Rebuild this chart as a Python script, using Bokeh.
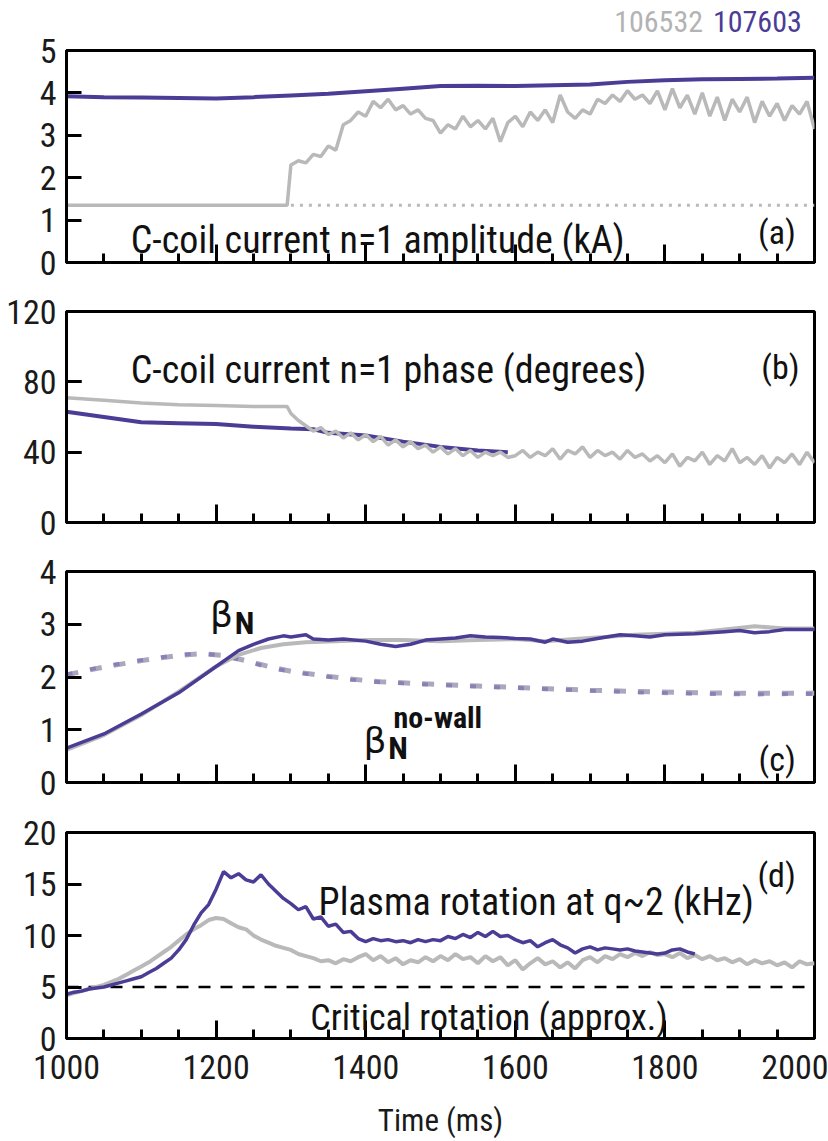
from bokeh.plotting import figure
from bokeh.layouts import column
from bokeh.models import Label, SingleIntervalTicker
from bokeh.core.properties import value
from bokeh.embed import file_html
from bokeh.resources import INLINE

# ---------------- data ----------------
shots = ["106532", "107603"]

# (a) C-coil current n=1 amplitude (kA)
amp_t_107603 = [1000, 1050, 1100, 1150, 1200, 1250, 1300, 1350, 1400, 1450, 1500,
                1550, 1600, 1650, 1700, 1750, 1800, 1850, 1900, 1950, 2000]
amp_107603 = [3.92, 3.90, 3.89, 3.88, 3.87, 3.90, 3.94, 3.98, 4.04, 4.10, 4.16,
              4.17, 4.16, 4.18, 4.20, 4.26, 4.30, 4.32, 4.33, 4.34, 4.36]
amp_t_106532 = [1000, 1295, 1300, 1310, 1320, 1330, 1340, 1350, 1360, 1370, 1380, 1390,
                1400, 1410, 1420, 1430, 1440, 1450, 1460, 1470, 1480, 1490,
                1500, 1510, 1520, 1530, 1540, 1550, 1560, 1570, 1580, 1590,
                1600, 1610, 1620, 1630, 1640, 1650, 1660, 1670, 1680, 1690,
                1700, 1710, 1720, 1730, 1740, 1750, 1760, 1770, 1780, 1790,
                1800, 1810, 1820, 1830, 1840, 1850, 1860, 1870, 1880, 1890,
                1900, 1910, 1920, 1930, 1940, 1950, 1960, 1970, 1980, 1990, 2000]
amp_106532 = [1.35, 1.35, 2.30, 2.40, 2.35, 2.55, 2.50, 2.75, 2.65, 3.25, 3.35, 3.55,
              3.45, 3.80, 3.65, 3.85, 3.60, 3.70, 3.50, 3.60, 3.40, 3.35,
              3.05, 3.25, 3.15, 3.45, 3.20, 3.35, 3.15, 3.40, 2.85, 3.30,
              3.45, 3.20, 3.55, 3.35, 3.60, 3.30, 3.95, 3.55, 3.40, 3.60,
              3.50, 3.85, 3.75, 3.95, 3.80, 4.05, 3.85, 3.95, 3.75, 4.05,
              3.60, 4.10, 3.65, 3.95, 3.50, 4.00, 3.45, 3.90, 3.35, 3.85,
              3.55, 3.90, 3.30, 3.80, 3.45, 3.75, 3.35, 3.70, 3.50, 3.80, 3.15]
amp_floor_t = [1300, 2000]
amp_floor = [1.35, 1.35]

# (b) C-coil current n=1 phase (degrees)
ph_t_107603 = [1000, 1050, 1100, 1150, 1200, 1250, 1300, 1330, 1350, 1400, 1450,
               1500, 1550, 1590]
ph_107603 = [63, 60, 57, 56.5, 56, 54.5, 53.5, 53, 51, 49.5, 46, 43, 41, 40]
ph_t_106532 = [1000, 1050, 1100, 1150, 1200, 1250, 1295, 1300, 1310, 1320, 1330, 1340,
               1350, 1360, 1370, 1380, 1390, 1400, 1410, 1420, 1430, 1440,
               1450, 1460, 1470, 1480, 1490, 1500, 1510, 1520, 1530, 1540,
               1550, 1560, 1570, 1580, 1590, 1600, 1610, 1620, 1630, 1640,
               1650, 1660, 1670, 1680, 1690, 1700, 1710, 1720, 1730, 1740,
               1750, 1760, 1770, 1780, 1790, 1800, 1810, 1820, 1830, 1840,
               1850, 1860, 1870, 1880, 1890, 1900, 1910, 1920, 1930, 1940,
               1950, 1960, 1970, 1980, 1990, 2000]
ph_106532 = [71, 69.5, 68, 67, 66.5, 66, 66, 62, 58, 55, 52, 54,
             50, 52, 48, 51, 47, 50, 46, 49, 44, 47,
             43, 46, 42, 44, 40, 43, 39, 42, 38, 41,
             37, 40, 38, 40, 37, 38, 41, 37, 40, 38,
             42, 36, 41, 39, 43, 37, 41, 38, 40, 36,
             41, 37, 39, 35, 38, 34, 39, 32, 37, 35,
             40, 33, 38, 35, 42, 34, 37, 33, 38, 31,
             37, 34, 39, 33, 40, 34]

# (c) beta_N and no-wall limit
bn_t_107603 = [1000, 1050, 1100, 1150, 1200, 1230, 1250, 1270, 1290, 1300, 1320, 1330,
               1350, 1370, 1400, 1420, 1440, 1460, 1480, 1500, 1520, 1540, 1560,
               1580, 1600, 1620, 1640, 1650, 1670, 1690, 1710, 1740, 1760, 1780,
               1800, 1840, 1880, 1900, 1920, 1940, 1960, 2000]
bn_107603 = [0.65, 0.92, 1.30, 1.70, 2.20, 2.50, 2.62, 2.72, 2.78, 2.76, 2.80, 2.72,
             2.70, 2.72, 2.68, 2.62, 2.58, 2.62, 2.70, 2.72, 2.74, 2.78, 2.76,
             2.75, 2.73, 2.72, 2.66, 2.72, 2.66, 2.68, 2.73, 2.80, 2.78, 2.76,
             2.80, 2.82, 2.86, 2.88, 2.84, 2.86, 2.90, 2.90]
bn_t_106532 = [1000, 1050, 1100, 1150, 1200, 1230, 1260, 1290, 1320, 1360, 1400, 1450,
               1500, 1550, 1600, 1640, 1680, 1720, 1760, 1800, 1840, 1880, 1920,
               1960, 2000]
bn_106532 = [0.62, 0.90, 1.28, 1.72, 2.20, 2.42, 2.55, 2.62, 2.66, 2.68, 2.70, 2.70,
             2.68, 2.70, 2.72, 2.68, 2.72, 2.76, 2.80, 2.82, 2.84, 2.90, 2.96,
             2.92, 2.92]
nowall_t = [1000, 1050, 1100, 1150, 1180, 1210, 1240, 1270, 1300, 1340, 1380, 1420,
            1480, 1550, 1620, 1700, 1780, 1850, 1920, 2000]
nowall_107603 = [2.05, 2.20, 2.32, 2.42, 2.45, 2.40, 2.30, 2.18, 2.10, 2.02, 1.95, 1.90,
                 1.86, 1.82, 1.78, 1.74, 1.70, 1.68, 1.67, 1.68]
nowall_106532 = [2.04, 2.19, 2.31, 2.41, 2.44, 2.41, 2.31, 2.20, 2.11, 2.03, 1.96, 1.91,
                 1.87, 1.83, 1.79, 1.75, 1.72, 1.70, 1.69, 1.69]

# (d) plasma rotation at q~2 (kHz)
rot_t_107603 = list(range(1000, 1841, 10))
rot_107603 = [4.3, 4.5, 4.6, 4.8, 4.9, 5.0, 5.2, 5.4, 5.6, 5.8,
              6.0, 6.4, 6.8, 7.3, 7.8, 8.6, 9.6, 11.0, 12.2, 13.0,
              14.5, 16.2, 15.6, 16.0, 15.4, 15.2, 15.9, 15.0, 14.3, 13.6,
              13.1, 12.5, 12.8, 11.6, 11.8, 10.9, 11.1, 10.3, 10.4, 9.7,
              9.4, 9.7, 9.5, 9.6, 9.4, 9.5, 9.3, 9.6, 9.4, 9.6,
              9.5, 9.9, 9.7, 10.1, 9.8, 10.3, 9.9, 10.4, 9.9, 10.0,
              9.6, 9.3, 9.5, 8.9, 9.3, 9.6, 9.1, 8.8, 8.3, 8.7,
              8.9, 8.6, 8.8, 8.7, 8.6, 8.7, 8.5, 8.4, 8.3, 8.2,
              8.3, 8.6, 8.7, 8.4, 8.2]
rot_t_106532 = list(range(1000, 2001, 10))
rot_106532 = [4.2, 4.4, 4.6, 4.8, 5.0, 5.2, 5.5, 5.8, 6.2, 6.6,
              7.0, 7.4, 7.9, 8.4, 8.9, 9.5, 10.1, 10.6, 11.0, 11.5,
              11.7, 11.6, 11.2, 10.8, 10.6, 10.0, 9.6, 9.3, 9.0, 8.8,
              8.6, 8.2, 8.0, 7.8, 7.5, 7.6, 7.3, 7.7, 7.5, 7.9,
              8.2, 7.6, 8.0, 7.4, 7.8, 7.2, 7.6, 7.4, 7.9, 7.5,
              8.0, 7.6, 8.2, 7.7, 7.9, 7.3, 8.0, 7.5, 7.9, 7.1,
              7.6, 6.7, 7.3, 7.8, 7.2, 7.5, 6.9, 7.4, 6.8, 7.6,
              7.9, 7.4, 8.0, 7.7, 8.2, 7.9, 8.3, 8.0, 8.4, 8.1,
              8.2, 7.9, 8.3, 7.8, 8.1, 7.7, 8.0, 7.6, 7.8, 7.4,
              7.7, 7.2, 7.6, 7.3, 7.5, 7.1, 7.4, 6.9, 7.5, 7.2, 7.3]
critical_t = [1000, 2000]
critical = [5, 5]

x_tick_labels = ["1000", "1200", "1400", "1600", "1800", "2000"]

# ---------------- styling ----------------
PURPLE = "#4b3c96"
GRAY = "#b9b9b9"
FONT = "'Roboto Condensed', 'Noto Sans Condensed', 'DejaVu Sans Condensed', 'Liberation Sans', sans-serif"
W = 828
TICK_SIZE = "34px"
NOTE_SIZE = "38px"


def panel(height, b_top, b_bottom, y_end, y_step, y_minor, show_x=False):
    p = figure(width=W, height=height, x_range=(1000, 2000), y_range=(0, y_end),
               output_backend="svg", toolbar_location=None,
               min_border_left=66, min_border_right=14,
               min_border_top=b_top, min_border_bottom=b_bottom)
    p.grid.visible = False
    p.outline_line_color = "black"
    p.outline_line_width = 3
    p.background_fill_color = "white"
    p.border_fill_color = "white"

    ya = p.yaxis[0]
    ya.ticker = SingleIntervalTicker(interval=y_step, num_minor_ticks=y_minor)
    ya.axis_line_width = 3
    ya.major_tick_in = 15
    ya.major_tick_out = 0
    ya.minor_tick_in = 15
    ya.minor_tick_out = 0
    ya.major_tick_line_width = 3
    ya.minor_tick_line_width = 3
    ya.major_label_text_font = FONT
    ya.major_label_text_font_size = TICK_SIZE
    ya.major_label_text_color = "#1a1a1a"
    ya.major_label_standoff = 10

    xa = p.xaxis[0]
    xa.ticker = SingleIntervalTicker(interval=200, num_minor_ticks=4)
    xa.axis_line_width = 3
    xa.major_tick_in = 18
    xa.major_tick_out = 0
    xa.minor_tick_in = 9
    xa.minor_tick_out = 0
    xa.major_tick_line_width = 3
    xa.minor_tick_line_width = 3
    xa.major_label_text_font = FONT
    if show_x:
        xa.major_label_text_color = "#1a1a1a"
        xa.major_label_text_font_size = TICK_SIZE
        xa.major_label_standoff = 16
        xa.major_label_overrides = {1000 + 200 * i: s for i, s in enumerate(x_tick_labels)}
    else:
        # shared time axis: only the bottom panel carries tick labels
        xa.major_label_text_color = None
        xa.major_label_standoff = 0
    return p


def note(p, x, y, text, size=NOTE_SIZE, color="#111111", align="left", style="normal", font=FONT):
    p.add_layout(Label(x=x, y=y, text=text, text_font=font, text_font_size=size,
                       text_color=color, text_align=align, text_baseline="alphabetic",
                       text_font_style=style))


# shot numbers above the first panel (same horizontal frame as the panels)
head = figure(width=W, height=38, x_range=(1000, 2000), y_range=(0, 38),
              output_backend="svg", toolbar_location=None, title=None,
              x_axis_location=None, y_axis_location=None,
              min_border_left=66, min_border_right=14,
              min_border_top=0, min_border_bottom=0)
head.grid.visible = False
head.outline_line_color = None
head.text(x=[1851], y=[17], text=[shots[0]], text_align="right", text_baseline="middle",
          text_font=value(FONT), text_font_size="30px", text_color="#b3b3b3")
head.text(x=[1983], y=[17], text=[shots[1]], text_align="right", text_baseline="middle",
          text_font=value(FONT), text_font_size="30px", text_color=PURPLE)

# (a)
pa = panel(249, 12, 25, 5, 1, 0)
pa.line(amp_floor_t, amp_floor, line_color=GRAY, line_width=3, line_dash="3 6")
pa.line(amp_t_106532, amp_106532, line_color=GRAY, line_width=3.5)
pa.line(amp_t_107603, amp_107603, line_color=PURPLE, line_width=4)
note(pa, 1086, 0.52, "C-coil current n=1 amplitude (kA)")
note(pa, 1975, 0.72, "(a)", size="34px", align="right")

# (b)
pb = panel(259, 24, 24, 120, 40, 1)
pb.line(ph_t_107603, ph_107603, line_color=PURPLE, line_width=4)
pb.line(ph_t_106532, ph_106532, line_color=GRAY, line_width=3.5)
note(pb, 1086, 86.5, "C-coil current n=1 phase (degrees)")
note(pb, 1980, 88.5, "(b)", size="34px", align="right")

# (c)
pc = panel(261, 25, 25, 4, 1, 0)
pc.line(nowall_t, nowall_106532, line_color="#a9a9bd", line_width=5, line_dash="12 12")
pc.line(nowall_t, nowall_107603, line_color="#7c70b4", line_width=4, line_dash="6 18",
        line_alpha=0.7)
pc.line(bn_t_106532, bn_106532, line_color=GRAY, line_width=4)
pc.line(bn_t_107603, bn_107603, line_color=PURPLE, line_width=3.5)
note(pc, 1192, 3.18, "β", size="36px", font="DejaVu Sans")
note(pc, 1225, 3.03, "N", size="32px", style="bold")
note(pc, 1397, 0.80, "β", size="36px", font="DejaVu Sans")
note(pc, 1430, 0.66, "N", size="32px", style="bold")
note(pc, 1437, 1.23, "no-wall", size="30px", style="bold")
note(pc, 1975, 0.45, "(c)", size="34px", align="right")

# (d)
pd = panel(334, 25, 99, 20, 5, 0, show_x=True)
pd.line(critical_t, critical, line_color="black", line_width=2.5, line_dash="12 10")
pd.line(rot_t_106532, rot_106532, line_color=GRAY, line_width=4)
pd.line(rot_t_107603, rot_107603, line_color=PURPLE, line_width=3.5)
note(pd, 1337, 13.3, "Plasma rotation at q~2 (kHz)")
note(pd, 1326, 2.0, "Critical rotation (approx.)", size="36px")
note(pd, 1975, 15.9, "(d)", size="34px", align="right")
pd.xaxis.axis_label = "Time (ms)"
pd.xaxis.axis_label_text_font = FONT
pd.xaxis.axis_label_text_font_size = "31px"
pd.xaxis.axis_label_text_font_style = "normal"
pd.xaxis.axis_label_text_color = "#1a1a1a"
pd.xaxis.axis_label_standoff = 20

layout = column(head, pa, pb, pc, pd, spacing=0)
open("out.html", "w").write(file_html(layout, INLINE))
